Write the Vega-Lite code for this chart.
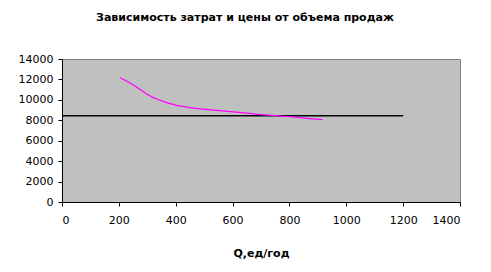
{
  "$schema": "https://vega.github.io/schema/vega-lite/v6.json",
  "width": 398,
  "height": 143,
  "autosize": {"type": "none"},
  "padding": {"left": 62, "top": 59, "right": 31, "bottom": 70},
  "background": "white",
  "title": {
    "text": "Зависимость затрат и цены от объема продаж",
    "font": "DejaVu Sans",
    "fontSize": 11,
    "fontWeight": "bold",
    "color": "black",
    "anchor": "middle",
    "frame": "group",
    "dx": -16,
    "offset": 30
  },
  "datasets": {
    "cost": [
      {"Q": 204, "v": 12170},
      {"Q": 227, "v": 11850},
      {"Q": 251, "v": 11460},
      {"Q": 274, "v": 11030},
      {"Q": 298, "v": 10580},
      {"Q": 321, "v": 10220},
      {"Q": 345, "v": 9960},
      {"Q": 368, "v": 9730},
      {"Q": 403, "v": 9470},
      {"Q": 450, "v": 9240},
      {"Q": 485, "v": 9110},
      {"Q": 544, "v": 8980},
      {"Q": 614, "v": 8810},
      {"Q": 650, "v": 8690},
      {"Q": 690, "v": 8590},
      {"Q": 750, "v": 8460},
      {"Q": 800, "v": 8360},
      {"Q": 837, "v": 8260},
      {"Q": 872, "v": 8165},
      {"Q": 917, "v": 8060}
    ],
    "price": [
      {"Q": 0, "v": 8450},
      {"Q": 200, "v": 8450},
      {"Q": 400, "v": 8450},
      {"Q": 600, "v": 8450},
      {"Q": 800, "v": 8450},
      {"Q": 1000, "v": 8450},
      {"Q": 1200, "v": 8450}
    ]
  },
  "encoding": {
    "x": {
      "field": "Q",
      "type": "quantitative",
      "scale": {"domain": [0, 1400], "nice": false},
      "axis": {
        "values": [0, 200, 400, 600, 800, 1000, 1200, 1400],
        "format": "d",
        "title": "Q,ед/год",
        "labelPadding": 8,
        "titlePadding": 22
      }
    },
    "y": {
      "field": "v",
      "type": "quantitative",
      "scale": {"domain": [0, 14000], "nice": false},
      "axis": {
        "values": [0, 2000, 4000, 6000, 8000, 10000, 12000, 14000],
        "format": "d",
        "title": null,
        "labelPadding": 5
      }
    }
  },
  "layer": [
    {
      "data": {"name": "price"},
      "mark": {"type": "line", "color": "black", "strokeWidth": 1.5}
    },
    {
      "data": {"name": "cost"},
      "mark": {"type": "line", "color": "#FF00FF", "strokeWidth": 1.25}
    }
  ],
  "config": {
    "view": {"fill": "#C0C0C0", "stroke": "#808080", "strokeWidth": 1},
    "axis": {
      "grid": false,
      "domainColor": "black",
      "domainWidth": 1,
      "tickColor": "black",
      "tickSize": 4,
      "tickWidth": 1,
      "labelFont": "DejaVu Sans",
      "labelFontSize": 11,
      "labelColor": "black",
      "titleFont": "DejaVu Sans",
      "titleFontSize": 11,
      "titleFontWeight": "bold",
      "titleColor": "black"
    }
  }
}
